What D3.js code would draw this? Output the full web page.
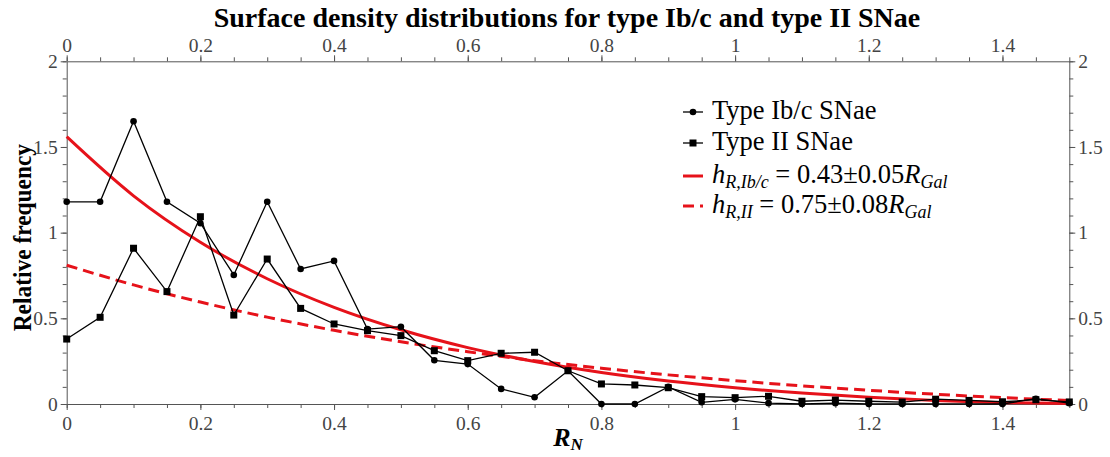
<!DOCTYPE html>
<html>
<head>
<meta charset="utf-8">
<script src="https://cdn.jsdelivr.net/npm/d3@7/dist/d3.min.js"></script>
<style>
  html, body { margin: 0; padding: 0; background: #fff; }
  svg { display: block; }
  text { font-family: "Liberation Serif", "Times New Roman", serif; }
</style>
</head>
<body>
<svg id="chart" width="1110" height="457"></svg>
<script>
// Normalised galactocentric radius of each bin
const radiusBins = [0, 0.05, 0.1, 0.15, 0.2, 0.25, 0.3, 0.35, 0.4, 0.45, 0.5, 0.55, 0.6, 0.65, 0.7, 0.75,
                    0.8, 0.85, 0.9, 0.95, 1.0, 1.05, 1.1, 1.15, 1.2, 1.25, 1.3, 1.35, 1.4, 1.45, 1.5];
// Relative frequency of type Ib/c supernovae per bin
const ibcFrequency = [1.18, 1.18, 1.65, 1.18, 1.055, 0.753, 1.18, 0.788, 0.835, 0.437, 0.451, 0.255, 0.233, 0.088, 0.039, 0.194,
                      0.0, 0.0, 0.10, 0.01, 0.027, 0.005, 0.0, 0.005, 0.0, 0.0, 0.0, 0.0, 0.0, 0.031, 0.005];
// Relative frequency of type II supernovae per bin
const iiFrequency = [0.379, 0.506, 0.909, 0.656, 1.093, 0.519, 0.846, 0.558, 0.467, 0.428, 0.399, 0.311, 0.253, 0.296, 0.302, 0.194,
                     0.117, 0.111, 0.095, 0.043, 0.037, 0.045, 0.016, 0.023, 0.016, 0.011, 0.028, 0.021, 0.013, 0.025, 0.012];
// Exponential disc fits sampled along the radius
const fitRadius = [0, 0.1, 0.2, 0.3, 0.4, 0.5, 0.6, 0.7, 0.8, 0.9, 1.0, 1.1, 1.2, 1.3, 1.4, 1.5];
const ibcFit = [1.56, 1.215, 0.944, 0.731, 0.564, 0.433, 0.329, 0.248, 0.184, 0.134, 0.095, 0.064, 0.039, 0.020, 0.008, 0.003];
const iiFit  = [0.81, 0.695, 0.595, 0.507, 0.430, 0.363, 0.305, 0.253, 0.209, 0.170, 0.136, 0.106, 0.080, 0.057, 0.037, 0.020];
// Axis ticks
const xTickValues = [0, 0.2, 0.4, 0.6, 0.8, 1, 1.2, 1.4];
const xMinorValues = [0, 0.05, 0.1, 0.15, 0.2, 0.25, 0.3, 0.35, 0.4, 0.45, 0.5, 0.55, 0.6, 0.65, 0.7, 0.75,
                      0.8, 0.85, 0.9, 0.95, 1.0, 1.05, 1.1, 1.15, 1.2, 1.25, 1.3, 1.35, 1.4, 1.45, 1.5];
const yTickValues = [0, 0.5, 1, 1.5, 2];
const yMinorValues = [0, 0.1, 0.2, 0.3, 0.4, 0.5, 0.6, 0.7, 0.8, 0.9, 1, 1.1, 1.2, 1.3, 1.4, 1.5, 1.6, 1.7, 1.8, 1.9, 2];

const svg = d3.select("#chart");
const plotLeft = 66.7, plotRight = 1069.3, plotTop = 61.3, plotBottom = 404;
const RED = "#e6121a", AXIS = "#555";

const x = d3.scaleLinear().domain([0, 1.5]).range([plotLeft, plotRight]);
const y = d3.scaleLinear().domain([0, 2]).range([plotBottom, plotTop]);

const fmt = d => (d === 0 ? "0" : d3.format("~g")(d));

function styleAxis(g, labelSize) {
  g.select(".domain").attr("stroke", AXIS).attr("stroke-width", 1);
  g.selectAll(".tick line").attr("stroke", AXIS);
  g.selectAll(".tick text").attr("fill", "#444").attr("font-size", labelSize)
    .attr("font-family", "Liberation Serif, Times New Roman, serif");
}

// minor ticks first, majors on top
function addMinor(axisFn, scale, values, transform) {
  svg.append("g").attr("transform", transform)
    .call(axisFn(scale).tickValues(values).tickSize(4).tickFormat(""))
    .call(g => { g.select(".domain").remove(); g.selectAll("line").attr("stroke", AXIS); });
}
addMinor(d3.axisBottom, x, xMinorValues, `translate(0,${plotBottom})`);
addMinor(d3.axisTop, x, xMinorValues, `translate(0,${plotTop})`);
addMinor(d3.axisLeft, y, yMinorValues, `translate(${plotLeft},0)`);
addMinor(d3.axisRight, y, yMinorValues, `translate(${plotRight},0)`);

svg.append("g").attr("transform", `translate(0,${plotBottom})`)
  .call(d3.axisBottom(x).tickValues(xTickValues).tickFormat(fmt).tickSize(6).tickPadding(6).tickSizeOuter(0))
  .call(g => styleAxis(g, 19.5));
svg.append("g").attr("transform", `translate(0,${plotTop})`)
  .call(d3.axisTop(x).tickValues(xTickValues).tickFormat(fmt).tickSize(6).tickPadding(3).tickSizeOuter(0))
  .call(g => styleAxis(g, 19.5));
svg.append("g").attr("transform", `translate(${plotLeft},0)`)
  .call(d3.axisLeft(y).tickValues(yTickValues).tickFormat(fmt).tickSize(6).tickPadding(3).tickSizeOuter(0))
  .call(g => styleAxis(g, 19.5));
svg.append("g").attr("transform", `translate(${plotRight},0)`)
  .call(d3.axisRight(y).tickValues(yTickValues).tickFormat(fmt).tickSize(6).tickPadding(3).tickSizeOuter(0))
  .call(g => styleAxis(g, 19.5));

// fitted exponential profiles
const fitLine = d3.line().x(d => x(d[0])).y(d => y(d[1])).curve(d3.curveMonotoneX);
svg.append("path").datum(d3.zip(fitRadius, ibcFit)).attr("d", fitLine)
  .attr("fill", "none").attr("stroke", RED).attr("stroke-width", 3);
svg.append("path").datum(d3.zip(fitRadius, iiFit)).attr("d", fitLine)
  .attr("fill", "none").attr("stroke", RED).attr("stroke-width", 3).attr("stroke-dasharray", "11,6");

// binned frequencies
const dataLine = d3.line().x(d => x(d[0])).y(d => y(d[1]));
const ibc = d3.zip(radiusBins, ibcFrequency);
const ii = d3.zip(radiusBins, iiFrequency);
svg.append("path").datum(ii).attr("d", dataLine).attr("fill", "none").attr("stroke", "#000").attr("stroke-width", 1.3);
svg.append("path").datum(ibc).attr("d", dataLine).attr("fill", "none").attr("stroke", "#000").attr("stroke-width", 1.3);
svg.append("g").selectAll("rect").data(ii).join("rect")
  .attr("x", d => x(d[0]) - 3.5).attr("y", d => y(d[1]) - 3.5).attr("width", 7).attr("height", 7).attr("fill", "#000");
svg.append("g").selectAll("circle").data(ibc).join("circle")
  .attr("cx", d => x(d[0])).attr("cy", d => y(d[1])).attr("r", 3.3).attr("fill", "#000");

// title and axis titles
svg.append("text").attr("x", 567).attr("y", 27).attr("text-anchor", "middle")
  .attr("font-size", 28).attr("font-weight", "bold").attr("fill", "#000")
  .text("Surface density distributions for type Ib/c and type II SNae");
svg.append("text").attr("transform", `translate(31,${(plotTop + plotBottom) / 2 + 5}) rotate(-90) scale(0.9,1)`)
  .attr("text-anchor", "middle").attr("font-size", 26).attr("font-weight", "bold").attr("fill", "#000")
  .text("Relative frequency");
const xt = svg.append("text").attr("x", (plotLeft + plotRight) / 2).attr("y", 446).attr("text-anchor", "middle")
  .attr("font-size", 26).attr("font-weight", "bold").attr("font-style", "italic").attr("fill", "#000");
xt.append("tspan").text("R");
xt.append("tspan").attr("font-size", 17).attr("dy", 4).text("N");

// legend
const lg = svg.append("g");
const lx0 = 683, lx1 = 703, tx = 712;
const rows = [119, 150, 183, 213];
[0, 1].forEach(i => {
  const cy = rows[i] - 7;
  lg.append("line").attr("x1", lx0).attr("x2", lx1).attr("y1", cy).attr("y2", cy).attr("stroke", "#000").attr("stroke-width", 1.3);
  if (i === 0) lg.append("circle").attr("cx", 693).attr("cy", cy).attr("r", 3.3).attr("fill", "#000");
  else lg.append("rect").attr("x", 689.5).attr("y", cy - 3.5).attr("width", 7).attr("height", 7).attr("fill", "#000");
});
lg.append("line").attr("x1", lx0).attr("x2", lx1).attr("y1", rows[2] - 7).attr("y2", rows[2] - 7)
  .attr("stroke", RED).attr("stroke-width", 3);
lg.append("line").attr("x1", lx0).attr("x2", lx1).attr("y1", rows[3] - 7).attr("y2", rows[3] - 7)
  .attr("stroke", RED).attr("stroke-width", 3).attr("stroke-dasharray", "11,6");

const legendText = (row) => lg.append("text").attr("x", tx).attr("y", row).attr("font-size", 26.5).attr("fill", "#000");
legendText(rows[0]).text("Type Ib/c SNae");
legendText(rows[1]).text("Type II SNae");
function fitLabel(row, sub, value) {
  const t = legendText(row);
  t.append("tspan").attr("font-style", "italic").text("h");
  t.append("tspan").attr("font-style", "italic").attr("font-size", 18).attr("dy", 5).text(sub);
  t.append("tspan").attr("dy", -5).text(" = " + value);
  t.append("tspan").attr("font-style", "italic").text("R");
  t.append("tspan").attr("font-style", "italic").attr("font-size", 18).attr("dy", 5).text("Gal");
}
fitLabel(rows[2], "R,Ib/c", "0.43\u00b10.05");
fitLabel(rows[3], "R,II", "0.75\u00b10.08");
</script>
</body>
</html>
